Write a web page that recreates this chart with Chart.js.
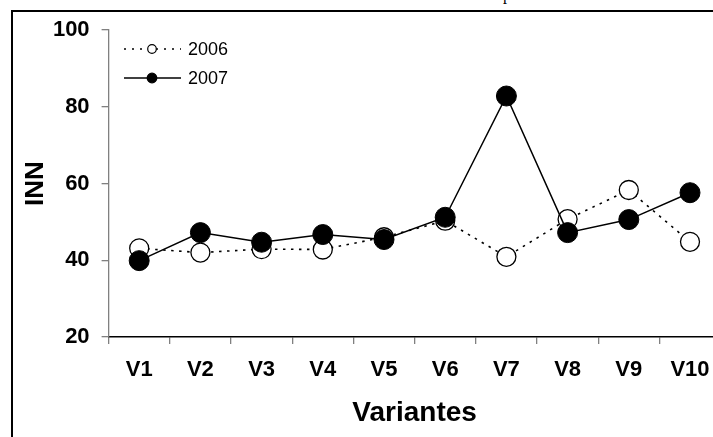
<!DOCTYPE html>
<html>
<head>
<meta charset="utf-8">
<script src="https://cdn.jsdelivr.net/npm/chart.js@4/dist/chart.umd.min.js"></script>
<style>
  html, body { margin: 0; padding: 0; width: 713px; height: 437px; overflow: hidden; background: #fff; }
  #wrap { position: relative; width: 713px; height: 437px; overflow: hidden; }
  #frame { position: absolute; left: 11px; top: 10px; width: 900px; height: 600px;
           border-top: 2px solid #000; border-left: 2px solid #000; }
  #cap { position: absolute; left: 503px; top: -13px; font-family: "Liberation Serif", "Times New Roman", serif;
         font-size: 16px; line-height: 16px; color: #000; }
  canvas { position: absolute; left: 0; top: 0; }
</style>
</head>
<body>
<div id="wrap">
  <div id="cap">p</div>
  <div id="frame"></div>
  <canvas id="c" width="740" height="437"></canvas>
</div>
<script>
// ---- data ----
const categories = ['V1', 'V2', 'V3', 'V4', 'V5', 'V6', 'V7', 'V8', 'V9', 'V10'];
const inn2006 = [43.1, 42.0, 42.9, 42.8, 46.0, 50.3, 40.9, 50.7, 58.3, 44.8];
const inn2007 = [39.9, 47.2, 44.7, 46.7, 45.4, 51.2, 82.8, 47.2, 50.6, 57.6];
const yTicks = [20, 40, 60, 80, 100];
const seriesNames = ['2006', '2007'];
const xTitle = 'Variantes';
const yTitle = 'INN';

const FONT = '"Liberation Sans", Arial, Helvetica, sans-serif';

const legendPlugin = {
  id: 'lineLegend',
  afterDraw(chart) {
    const ctx = chart.ctx;
    const items = [
      { text: seriesNames[0], y: 49, dash: [2, 6], fill: '#fff', r: 4.3 },
      { text: seriesNames[1], y: 78, dash: [], fill: '#000', r: 4.8 }
    ];
    ctx.save();
    items.forEach(it => {
      ctx.strokeStyle = '#000';
      ctx.lineWidth = 1.4;
      ctx.setLineDash(it.dash);
      ctx.beginPath();
      ctx.moveTo(124, it.y);
      ctx.lineTo(181, it.y);
      ctx.stroke();
      ctx.setLineDash([]);
      ctx.beginPath();
      ctx.arc(152, it.y, it.r, 0, Math.PI * 2);
      ctx.fillStyle = it.fill;
      ctx.fill();
      ctx.lineWidth = 1.2;
      ctx.stroke();
      ctx.fillStyle = '#000';
      ctx.font = '18px ' + FONT;
      ctx.textAlign = 'left';
      ctx.textBaseline = 'middle';
      ctx.fillText(it.text, 188, it.y + 1);
    });
    ctx.restore();
  }
};

new Chart(document.getElementById('c'), {
  type: 'line',
  data: {
    labels: categories,
    datasets: [
      {
        label: seriesNames[0],
        data: inn2006,
        order: 2,
        borderColor: '#000',
        borderWidth: 1.6,
        borderDash: [2.5, 5.5],
        pointRadius: 9.5,
        pointBackgroundColor: '#fff',
        pointBorderColor: '#000',
        pointBorderWidth: 1.3,
        tension: 0,
        fill: false
      },
      {
        label: seriesNames[1],
        data: inn2007,
        order: 1,
        borderColor: '#000',
        borderWidth: 1.5,
        pointRadius: 10,
        pointBackgroundColor: '#000',
        pointBorderColor: '#000',
        pointBorderWidth: 1,
        tension: 0,
        fill: false
      }
    ]
  },
  options: {
    responsive: false,
    animation: false,
    devicePixelRatio: 1,
    layout: { padding: { left: 0, right: 19.4, top: 30, bottom: 0 } },
    plugins: { legend: { display: false }, tooltip: { enabled: false } },
    scales: {
      x: {
        type: 'category',
        offset: true,
        afterFit: s => { s.height = 100; },
        grid: { display: true, offset: true, drawOnChartArea: false, drawTicks: true, tickLength: 7, color: '#808080', lineWidth: 1.3 },
        border: { display: true, color: '#000', width: 1.5 },
        ticks: { color: '#000', font: { family: FONT, size: 22, weight: 'bold' }, padding: 13, maxRotation: 0, autoSkip: false },
        title: { display: true, text: xTitle, color: '#000', font: { family: FONT, size: 28, weight: 'bold' }, padding: { top: 0, bottom: 7.4 } }
      },
      y: {
        min: 20,
        max: 100,
        afterFit: s => { s.width = 108.6; },
        afterBuildTicks: s => { s.ticks = yTicks.map(v => ({ value: v })); },
        grid: { display: true, drawOnChartArea: false, drawTicks: true, tickLength: 7, color: '#808080', lineWidth: 1.3 },
        border: { display: true, color: '#808080', width: 1.3 },
        ticks: { color: '#000', font: { family: FONT, size: 22, weight: 'bold' }, padding: 12 },
        title: { display: true, text: yTitle, color: '#000', font: { family: FONT, size: 26, weight: 'bold' }, padding: { top: 20.6, bottom: 0 } }
      }
    }
  },
  plugins: [legendPlugin]
});
</script>
</body>
</html>
